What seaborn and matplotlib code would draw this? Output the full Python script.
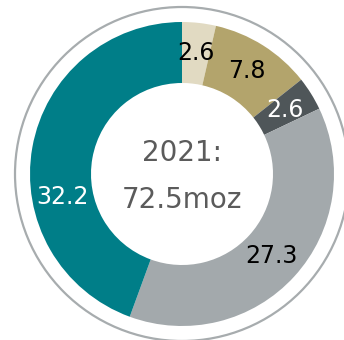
import numpy as np
import seaborn as sns
import matplotlib.pyplot as plt
from matplotlib.patches import Circle

# data
values = [2.6, 7.8, 2.6, 27.3, 32.2]
labels = ["2.6", "7.8", "2.6", "27.3", "32.2"]
colors = ["#e1dac2", "#b3a46c", "#4f5659", "#a3a9ac", "#007e88"]
label_colors = ["black", "black", "white", "black", "white"]
label_shift = [0, 0, 0, 0, 21]  # degrees, 32.2 sits lower than mid
center_text = ["2021:", "72.5moz"]

sns.set_theme(style="white")
plt.rcParams['font.family'] = ['DejaVu Sans']

fig = plt.figure(figsize=(3.44, 3.40), dpi=100)
ax = fig.add_axes([0, 0, 1, 1])

cx, cy, r_out, r_in = 182, 166, 152, 91
wedges, _ = ax.pie(values, colors=colors, startangle=90, counterclock=False,
                   radius=r_out, center=(cx, cy),
                   wedgeprops=dict(width=r_out - r_in, linewidth=0))

r_mid = (r_out + r_in) / 2
for w, lab, c, sh in zip(wedges, labels, label_colors, label_shift):
    ang = np.deg2rad((w.theta1 + w.theta2) / 2 + sh)
    ax.text(cx + r_mid * np.cos(ang), cy + r_mid * np.sin(ang), lab,
            ha="center", va="center", fontsize=17, color=c)

ax.add_patch(Circle((cx, cy), 167, fill=False, edgecolor="#a7acae", linewidth=1.6))

ax.text(cx, cy + 21, center_text[0], ha="center", va="center", fontsize=20, color="#5b5b5b")
ax.text(cx, cy - 26, center_text[1], ha="center", va="center", fontsize=20, color="#5b5b5b")

ax.set_xlim(0, 344)
ax.set_ylim(0, 340)
ax.set_aspect("equal")
ax.axis("off")

fig.savefig("out.png", dpi=100)
